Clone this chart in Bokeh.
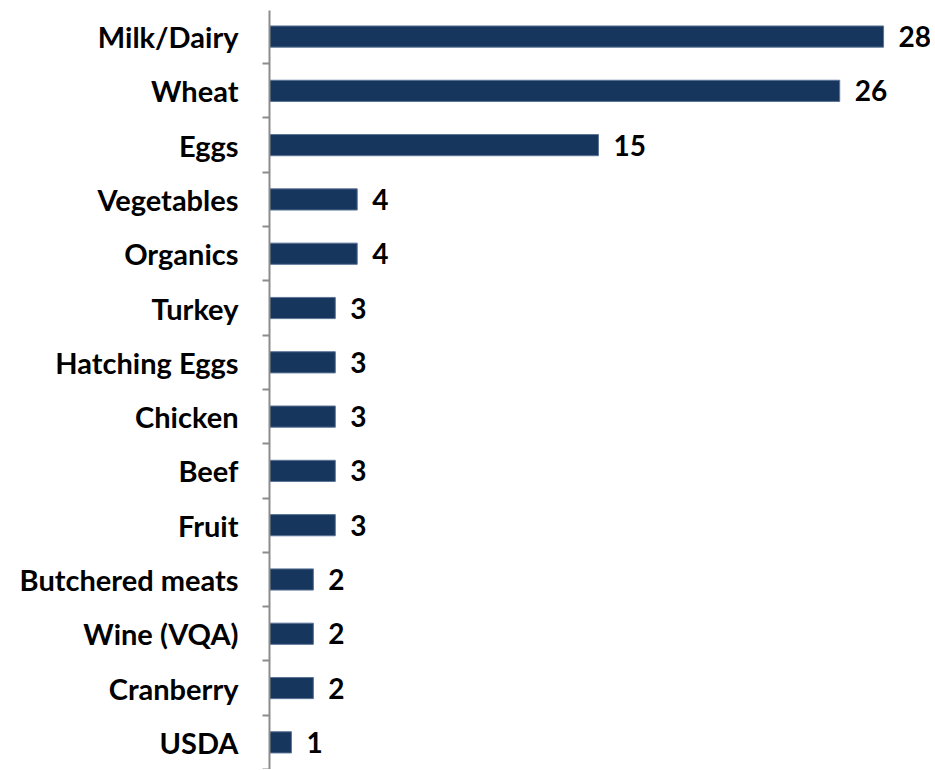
from bokeh.plotting import figure
from bokeh.models import ColumnDataSource, FixedTicker, Range1d
from bokeh.core.properties import value
from bokeh.embed import file_html
from bokeh.resources import INLINE

categories = ["Milk/Dairy", "Wheat", "Eggs", "Vegetables", "Organics", "Turkey",
              "Hatching Eggs", "Chicken", "Beef", "Fruit", "Butchered meats",
              "Wine (VQA)", "Cranberry", "USDA"]
counts = [28, 26, 15, 4, 4, 3, 3, 3, 3, 3, 2, 2, 2, 1]

n = len(categories)
ypos = [n - i - 0.5 for i in range(n)]
src = ColumnDataSource(dict(y=ypos, v=counts, lbl=[str(c) for c in counts], cat=categories))

FONT = "Lato"

p = figure(width=930, height=769, output_backend="svg", toolbar_location=None,
           x_range=Range1d(0, 30.14), y_range=Range1d(0, 13.98),
           min_border_left=269, min_border_right=0, min_border_top=10, min_border_bottom=0)
p.outline_line_color = None
p.xgrid.visible = False
p.ygrid.visible = False
p.xaxis.visible = False

p.hbar(y="y", right="v", left=0, height=0.39, source=src,
       fill_color="#17365D", line_color="#5A7396", line_width=1)
p.text(x="v", y="y", text="lbl", source=src, x_offset=15,
       text_baseline="middle", text_align="left",
       text_font=value(FONT), text_font_style="bold", text_font_size="28px",
       text_color="#000000")

yax = p.yaxis[0]
yax.ticker = FixedTicker(ticks=ypos, minor_ticks=list(range(n + 1)))
yax.major_label_overrides = {y: c for y, c in zip(ypos, categories)}
yax.major_tick_line_color = None
yax.major_tick_out = 0
yax.major_tick_in = 0
yax.minor_tick_out = 7
yax.minor_tick_in = 0
yax.minor_tick_line_color = "#8C8C8C"
yax.minor_tick_line_width = 2
yax.axis_line_color = "#8C8C8C"
yax.axis_line_width = 2
yax.major_label_standoff = 24
yax.major_label_text_font = FONT
yax.major_label_text_font_style = "bold"
yax.major_label_text_font_size = "29px"
yax.major_label_text_color = "#000000"

open("out.html", "w").write(file_html(p, INLINE))
